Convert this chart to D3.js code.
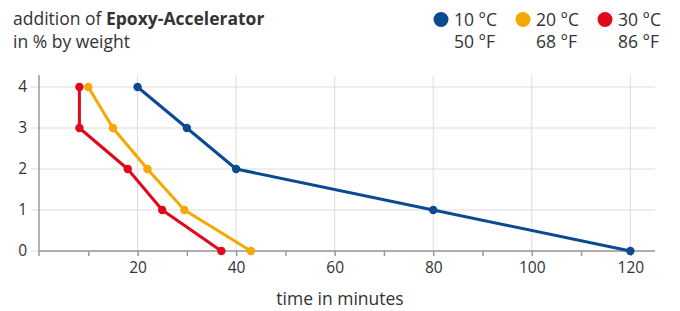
<!DOCTYPE html>
<html><head><meta charset="utf-8">
<script src="https://cdn.jsdelivr.net/npm/d3@7"></script>
<style>
body{margin:0;background:#fff;}
text{font-family:"Open Sans",sans-serif;fill:#333;}
</style></head>
<body>
<svg id="c" width="680" height="311"></svg>
<script>
const xTicks=[20,40,60,80,100,120];
const yTicks=[0,1,2,3,4];
const seriesNames=["10 °C","20 °C","30 °C"];
const seriesF=["50 °F","68 °F","86 °F"];
const seriesColors=["#0b4a92","#f6a800","#e2071a"];
const percent=[4,3,2,1,0];
const time10=[20,30,40,80,120];
const time20=[10,15,22,29.5,43];
const time30=[8.2,8.2,18,25,37];
const allTimes=[time10,time20,time30];

const svg=d3.select("#c");
const m={l:39,r:655,t:75,b:251};
const x=d3.scaleLinear().domain([0,125]).range([m.l,m.r]);
const y=d3.scaleLinear().domain([0,4]).range([m.b,87]);
const FS=17.5, TS=15.5;

// grid
svg.append("g").selectAll("line").data(yTicks).join("line")
 .attr("x1",m.l-8).attr("x2",m.r).attr("y1",d=>y(d)).attr("y2",d=>y(d))
 .attr("stroke","#dcdcdc").attr("stroke-width",1);
svg.append("g").selectAll("line").data(xTicks).join("line")
 .attr("x1",d=>x(d)).attr("x2",d=>x(d)).attr("y1",m.t).attr("y2",m.b)
 .attr("stroke","#dcdcdc").attr("stroke-width",1);

// x axis
const xa=svg.append("g").attr("transform",`translate(0,${m.b})`)
 .call(d3.axisBottom(x).tickValues(d3.range(10,125,10)).tickSize(5).tickFormat(d=>xTicks.includes(d)?d:""));
xa.select(".domain").attr("stroke","#999").attr("stroke-width",1.5).attr("d",`M${m.l},0H${m.r}`);
xa.selectAll(".tick line").attr("stroke","#999").attr("stroke-width",1.5);
xa.selectAll(".tick text").attr("font-size",TS).attr("dy","0.71em").attr("y",11).style("font-family","Open Sans").attr("fill","#333");

// y axis
const ya=svg.append("g").attr("transform",`translate(${m.l},0)`)
 .call(d3.axisLeft(y).tickValues(yTicks).tickSize(0).tickPadding(12).tickFormat(d3.format("d")));
ya.select(".domain").attr("stroke","#999").attr("stroke-width",1.5).attr("d",`M0,${m.t}V${m.b+5}`);
ya.selectAll(".tick text").attr("font-size",TS).style("font-family","Open Sans").attr("fill","#333");

// series
const line=d3.line().x(d=>x(d[0])).y(d=>y(d[1]));
allTimes.forEach((ts,i)=>{
  const pts=ts.map((t,j)=>[t,percent[j]]);
  svg.append("path").attr("d",line(pts)).attr("fill","none")
    .attr("stroke",seriesColors[i]).attr("stroke-width",3).attr("stroke-linejoin","round");
  svg.append("g").selectAll("circle").data(pts).join("circle")
    .attr("cx",d=>x(d[0])).attr("cy",d=>y(d[1])).attr("r",4.2).attr("fill",seriesColors[i]);
});

// title
const t=svg.append("text").attr("x",13).attr("y",25).attr("font-size",FS);
t.append("tspan").text("addition of ");
t.append("tspan").attr("font-weight","bold").text("Epoxy-Accelerator");
svg.append("text").attr("x",13).attr("y",48).attr("font-size",FS).text("in % by weight");

// legend
const lx=[441,523,605];
seriesNames.forEach((n,i)=>{
  svg.append("circle").attr("cx",lx[i]).attr("cy",19.5).attr("r",7.5).attr("fill",seriesColors[i]);
  svg.append("text").attr("x",lx[i]+13).attr("y",25.5).attr("font-size",FS).text(n);
  svg.append("text").attr("x",lx[i]+13).attr("y",48).attr("font-size",FS).text(seriesF[i]);
});

// x label
svg.append("text").attr("x",340).attr("y",305).attr("text-anchor","middle").attr("font-size",FS).text("time in minutes");
</script>
</body></html>
